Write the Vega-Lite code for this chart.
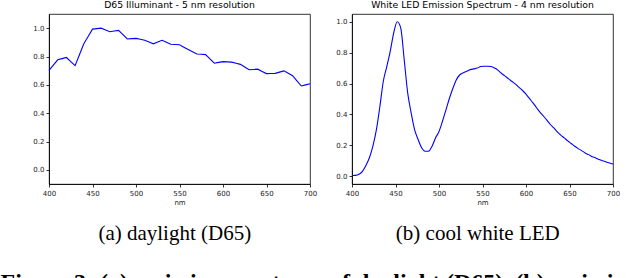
{
  "$schema": "https://vega.github.io/schema/vega-lite/v6.json",
  "background": "white",
  "padding": {"left": 0, "top": 0, "right": 0, "bottom": 0},
  "datasets": {
    "d65": [
      {"nm":400,"v":0.7024},{"nm":405,"v":0.7395},{"nm":410,"v":0.7766},{"nm":415,"v":0.7848},{"nm":420,"v":0.7931},{"nm":425,"v":0.7644},{"nm":430,"v":0.7358},{"nm":435,"v":0.8129},{"nm":440,"v":0.8901},{"nm":445,"v":0.9417},{"nm":450,"v":0.9932},{"nm":455,"v":0.9966},{"nm":460,"v":1.0},{"nm":465,"v":0.9875},{"nm":470,"v":0.975},{"nm":475,"v":0.9795},{"nm":480,"v":0.984},{"nm":485,"v":0.9538},{"nm":490,"v":0.9236},{"nm":495,"v":0.9259},{"nm":500,"v":0.9282},{"nm":505,"v":0.9217},{"nm":510,"v":0.915},{"nm":515,"v":0.9023},{"nm":520,"v":0.8895},{"nm":525,"v":0.9018},{"nm":530,"v":0.9141},{"nm":535,"v":0.9002},{"nm":540,"v":0.8863},{"nm":545,"v":0.8847},{"nm":550,"v":0.8832},{"nm":555,"v":0.866},{"nm":560,"v":0.8488},{"nm":565,"v":0.8333},{"nm":570,"v":0.8177},{"nm":575,"v":0.8154},{"nm":580,"v":0.8131},{"nm":585,"v":0.783},{"nm":590,"v":0.7528},{"nm":595,"v":0.7584},{"nm":600,"v":0.764},{"nm":605,"v":0.7622},{"nm":610,"v":0.7605},{"nm":615,"v":0.7525},{"nm":620,"v":0.7444},{"nm":625,"v":0.7257},{"nm":630,"v":0.707},{"nm":635,"v":0.7087},{"nm":640,"v":0.7105},{"nm":645,"v":0.6948},{"nm":650,"v":0.6793},{"nm":655,"v":0.6801},{"nm":660,"v":0.6808},{"nm":665,"v":0.6897},{"nm":670,"v":0.6984},{"nm":675,"v":0.6814},{"nm":680,"v":0.6645},{"nm":685,"v":0.6281},{"nm":690,"v":0.5918},{"nm":695,"v":0.5999},{"nm":700,"v":0.6078}
    ],
    "led": [
      {"nm":400,"v":0.005},{"nm":404,"v":0.006},{"nm":408,"v":0.013},{"nm":412,"v":0.032},{"nm":416,"v":0.07},{"nm":420,"v":0.12},{"nm":424,"v":0.195},{"nm":428,"v":0.3},{"nm":432,"v":0.45},{"nm":436,"v":0.615},{"nm":440,"v":0.71},{"nm":444,"v":0.81},{"nm":448,"v":0.93},{"nm":452,"v":1.0},{"nm":456,"v":0.96},{"nm":460,"v":0.755},{"nm":464,"v":0.54},{"nm":468,"v":0.41},{"nm":472,"v":0.3},{"nm":476,"v":0.238},{"nm":480,"v":0.184},{"nm":484,"v":0.162},{"nm":488,"v":0.162},{"nm":492,"v":0.194},{"nm":496,"v":0.248},{"nm":500,"v":0.29},{"nm":504,"v":0.356},{"nm":508,"v":0.43},{"nm":512,"v":0.505},{"nm":516,"v":0.57},{"nm":520,"v":0.625},{"nm":524,"v":0.657},{"nm":528,"v":0.67},{"nm":532,"v":0.68},{"nm":536,"v":0.69},{"nm":540,"v":0.695},{"nm":544,"v":0.7},{"nm":548,"v":0.71},{"nm":552,"v":0.712},{"nm":556,"v":0.712},{"nm":560,"v":0.71},{"nm":564,"v":0.7},{"nm":568,"v":0.685},{"nm":572,"v":0.665},{"nm":576,"v":0.648},{"nm":580,"v":0.63},{"nm":584,"v":0.613},{"nm":588,"v":0.596},{"nm":592,"v":0.575},{"nm":596,"v":0.555},{"nm":600,"v":0.531},{"nm":604,"v":0.503},{"nm":608,"v":0.475},{"nm":612,"v":0.445},{"nm":616,"v":0.415},{"nm":620,"v":0.39},{"nm":624,"v":0.363},{"nm":628,"v":0.335},{"nm":632,"v":0.313},{"nm":636,"v":0.287},{"nm":640,"v":0.266},{"nm":644,"v":0.248},{"nm":648,"v":0.229},{"nm":652,"v":0.212},{"nm":656,"v":0.194},{"nm":660,"v":0.179},{"nm":664,"v":0.166},{"nm":668,"v":0.151},{"nm":672,"v":0.14},{"nm":676,"v":0.127},{"nm":680,"v":0.119},{"nm":684,"v":0.108},{"nm":688,"v":0.101},{"nm":692,"v":0.093},{"nm":696,"v":0.086},{"nm":700,"v":0.08}
    ]
  },
  "config": {
    "view": {"stroke": "black", "strokeWidth": 0.8},
    "axis": {
      "domainColor": "black", "domainWidth": 0.8, "tickColor": "black", "tickWidth": 0.8, "tickSize": 3,
      "labelColor": "#222", "labelFont": "DejaVu Sans", "labelFontSize": 7, "labelPadding": 2,
      "grid": false, "titleFont": "DejaVu Sans", "titleFontSize": 7, "titleFontWeight": "normal", "titleColor": "#222", "titlePadding": 2
    },
    "concat": {"spacing": 17}
  },
  "title": {
    "text": "Figure 3: (a) emission spectrum of daylight (D65), (b) emission spectrum of a cool white LED.",
    "orient": "bottom", "anchor": "start", "frame": "bounds",
    "font": "Liberation Serif", "fontSize": 24, "fontWeight": "bold", "color": "black", "offset": 27, "dx": -32
  },
  "hconcat": [
    {
      "title": {"text": "(a) daylight (D65)", "orient": "bottom", "anchor": "middle", "font": "Liberation Serif", "fontSize": 21, "fontWeight": "normal", "color": "black", "offset": 18},
      "vconcat": [
        {
          "title": {"text": "D65 Illuminant - 5 nm resolution", "font": "DejaVu Sans", "fontSize": 9.3, "fontWeight": "normal", "color": "black", "offset": 4},
          "width": 261, "height": 170,
          "data": {"name": "d65"},
          "mark": {"type": "line", "color": "#0000ff", "strokeWidth": 1.1},
          "encoding": {
            "x": {"field": "nm", "type": "quantitative", "scale": {"domain": [400, 700], "nice": false, "zero": false},
                  "axis": {"title": "nm", "values": [400,450,500,550,600,650,700], "labelFlush": false}},
            "y": {"field": "v", "type": "quantitative", "scale": {"domain": [-0.1, 1.1], "nice": false},
                  "axis": {"title": null, "values": [0,0.2,0.4,0.6,0.8,1.0], "format": ".1f"}}
          }
        }
      ]
    },
    {
      "title": {"text": "(b) cool white LED", "orient": "bottom", "anchor": "middle", "font": "Liberation Serif", "fontSize": 21, "fontWeight": "normal", "color": "black", "offset": 18},
      "vconcat": [
        {
          "title": {"text": "White LED Emission Spectrum - 4 nm resolution", "font": "DejaVu Sans", "fontSize": 9.3, "fontWeight": "normal", "color": "black", "offset": 4},
          "width": 261, "height": 170,
          "data": {"name": "led"},
          "mark": {"type": "line", "color": "#0000ff", "strokeWidth": 1.1, "interpolate": "monotone"},
          "encoding": {
            "x": {"field": "nm", "type": "quantitative", "scale": {"domain": [400, 700], "nice": false, "zero": false},
                  "axis": {"title": "nm", "values": [400,450,500,550,600,650,700], "labelFlush": false}},
            "y": {"field": "v", "type": "quantitative", "scale": {"domain": [-0.05, 1.05], "nice": false},
                  "axis": {"title": null, "values": [0,0.2,0.4,0.6,0.8,1.0], "format": ".1f"}}
          }
        }
      ]
    }
  ]
}
